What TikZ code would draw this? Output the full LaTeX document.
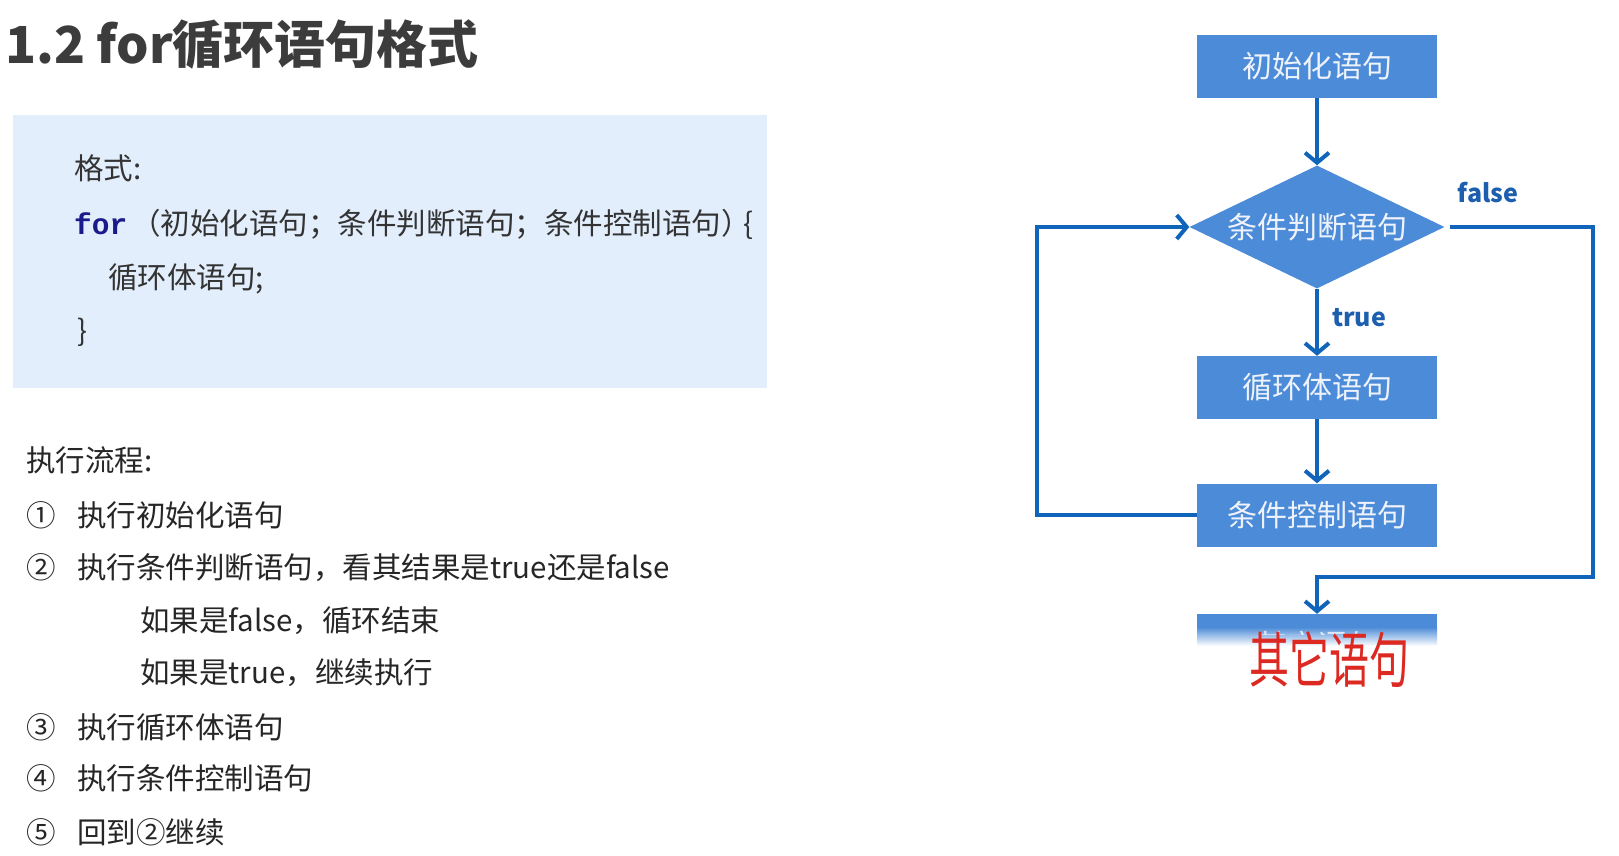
\documentclass[tikz,border=0pt]{standalone}
\usepackage{fontspec}
\setmainfont{Noto Sans CJK SC}
\newfontfamily\monofnt{Liberation Mono}
\usetikzlibrary{shapes.geometric,arrows.meta}
\definecolor{boxblue}{HTML}{4C8BD7}
\definecolor{lineblue}{HTML}{1064B9}
\definecolor{lblblue}{HTML}{1D5FAE}
\definecolor{panelbg}{HTML}{E3EEFC}
\definecolor{titlegray}{HTML}{3C3C3C}
\definecolor{txtgray}{HTML}{262626}
\definecolor{codegray}{HTML}{333333}
\definecolor{kwnavy}{HTML}{1A1A8A}
\definecolor{handred}{HTML}{DC2A22}
\definecolor{boxtxt}{HTML}{EEF3FB}
\begin{document}
\begin{tikzpicture}[x=1pt,y=-1pt,
  txt/.style={anchor=base west, inner sep=0pt, font=\fontsize{29.5}{34}\selectfont, text=txtgray},
  code/.style={txt, text=codegray},
  box/.style={rectangle, fill=boxblue, minimum width=240pt, minimum height=63pt, inner sep=0pt, text=boxtxt, font=\fontsize{30}{36}\selectfont},
  dec/.style={diamond, fill=boxblue, minimum width=255pt, minimum height=123pt, aspect=2.07, inner sep=0pt, text=boxtxt, font=\fontsize{30}{36}\selectfont},
  flow/.style={draw=lineblue, line width=4pt, -{Straight Barb[length=10pt,width=24pt]}},
  lbl/.style={text=lblblue, font=\bfseries\fontsize{25}{30}\selectfont, inner sep=0pt}
]
\useasboundingbox (0,0) rectangle (1619,856);
\fill[white] (0,0) rectangle (1619,856);

% title
\node[anchor=base west, inner sep=0pt, text=titlegray, font=\bfseries\fontsize{51}{60}\selectfont] (title) at (5,64) {1.2 for循环语句格式};

% code panel
\fill[panelbg] (13,115) rectangle (767,388);
\node[code] (fmt) at (74,179) {格式:};
\node[code, font=\monofnt\bfseries\fontsize{29.5}{34}\selectfont, text=kwnavy] (kw) at (74,234) {for};
\node[code] (args) at (131,234) {（初始化语句；条件判断语句；条件控制语句）};
\node[code] (ob) at (743,234) {\{};
\node[code] (body) at (108,288) {循环体语句;};
\node[code] (cb) at (77,341) {\}};

% execution steps
\node[txt] (flowt) at (26,471) {执行流程:};
\node[txt] (n1) at (26,526) {①};
\node[txt] (s1) at (77,526) {执行初始化语句};
\node[txt] (n2) at (26,578) {②};
\node[txt] (s2) at (77,578) {执行条件判断语句，看其结果是true还是false};
\node[txt] (s2a) at (140,631) {如果是false，循环结束};
\node[txt] (s2b) at (140,683) {如果是true，继续执行};
\node[txt] (n3) at (26,738) {③};
\node[txt] (s3) at (77,738) {执行循环体语句};
\node[txt] (n4) at (26,789) {④};
\node[txt] (s4) at (77,789) {执行条件控制语句};
\node[txt] (n5) at (26,843) {⑤};
\node[txt] (s5) at (77,843) {回到②继续};

% flowchart
\node[box] (b1) at (1317,66.5) {初始化语句};
\node[dec] (d) at (1317,227) {条件判断语句};
\node[box] (b2) at (1317,387.5) {循环体语句};
\node[box] (b3) at (1317,515) {条件控制语句};
\node[minimum width=240pt, minimum height=63pt, inner sep=0pt] (b4) at (1317,645.5) {};

% partially hidden last box
\fill[boxblue] (1197,614) rectangle (1437,627);
\shade[top color=boxblue, bottom color=white] (1197,627) rectangle (1437,646);
\begin{scope}
\clip (1197,614) rectangle (1437,634);
\node[box, fill=none, text opacity=0.85] (b4txt) at (1317,645.5) {其它语句};
\end{scope}

\draw[flow] (b1) -- (d);
\draw[flow] (d) -- (b2);
\draw[flow] (b2) -- (b3);
\coordinate (L) at (1037,515);
\draw[flow] (b3.west) -- (L) |- (d.west);
\coordinate (R) at (1593,227);
\coordinate (RB) at (1593,577);
\draw[flow] ([xshift=5pt]d.east) -- (R) -- (RB) -| (b4.north);

\node[lbl] (lf) at (1488,193) {false};
\node[lbl] (lt) at (1359,318) {true};

% handwritten annotation
\node[text=handred, font=\fontsize{40}{48}\selectfont, inner sep=0pt, yscale=1.5, transform shape] (hw) at (1329,660) {其它语句};
\end{tikzpicture}
\end{document}
